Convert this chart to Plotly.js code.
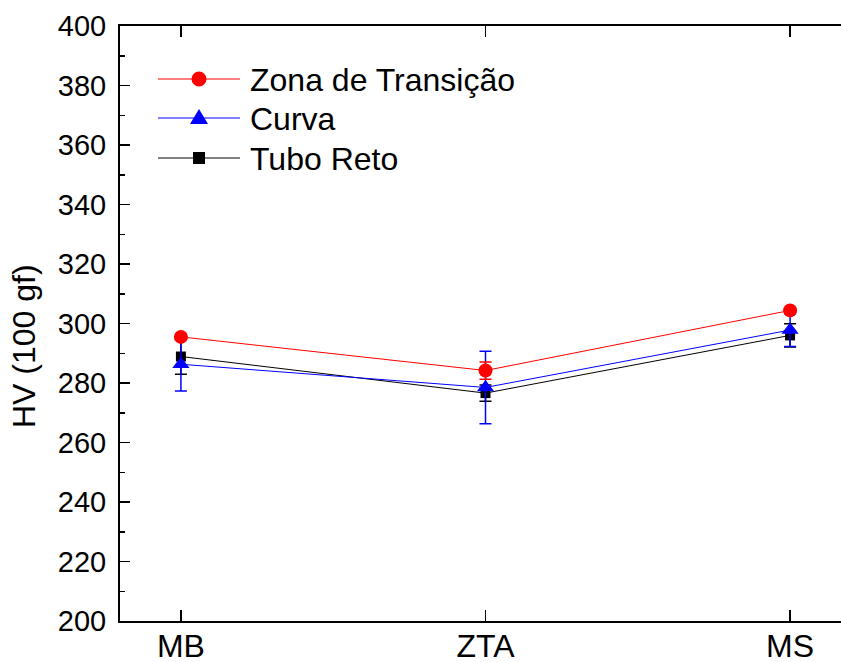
<!DOCTYPE html>
<html>
<head>
<meta charset="utf-8">
<script src="https://cdn.plot.ly/plotly-3.0.1.min.js"></script>
<style>
html, body { margin: 0; padding: 0; overflow: hidden; background: #fff; }
#chart { width: 860px; height: 662px; }
</style>
</head>
<body>
<div id="chart"></div>
<script>
// ---- data ----
const categories = ["MB", "ZTA", "MS"];
const seriesNames = ["Tubo Reto", "Curva", "Zona de Transição"];
const tuboReto = [288.9, 276.6, 296.0];
const tuboRetoErr = [6.0, 2.7, 3.9];
const curva = [286.3, 278.5, 297.8];
const curvaErr = [9.0, 12.2, 5.5];
const zona = [295.5, 284.2, 304.4];
const zonaErr = [0.8, 2.9, 0.8];
const yTickVals = [200, 220, 240, 260, 280, 300, 320, 340, 360, 380, 400];

// ---- geometry helpers (plot area in pixels) ----
const W = 860, H = 662;
const L = 120, R = 9, T = 26, B = 41;
const pw = W - L - R, ph = H - T - B;
const px = X => (X - L) / pw;
const py = Y => (H - B - Y) / ph;

const FONT = "Liberation Sans, Arial, sans-serif";

function trace(name, y, err, color, symbol, size) {
  return {
    type: "scatter", mode: "lines+markers", name: name,
    x: categories, y: y,
    line: { color: color, width: 1 },
    marker: { color: color, symbol: symbol, size: size, line: { width: 0 } },
    error_y: { type: "data", array: err, visible: true, color: color, thickness: 1.5, width: 6 },
    showlegend: false
  };
}

const data = [
  trace(seriesNames[0], tuboReto, tuboRetoErr, "#000000", "square", 10),
  trace(seriesNames[1], curva, curvaErr, "#0000ff", "triangle-up", 15),
  trace(seriesNames[2], zona, zonaErr, "#ff0000", "circle", 14)
];

// ---- custom legend (decoration) ----
const legendRows = [
  { name: seriesNames[2], color: "#ff0000", kind: "circle", Y: 79 },
  { name: seriesNames[1], color: "#0000ff", kind: "triangle", Y: 118 },
  { name: seriesNames[0], color: "#000000", kind: "square", Y: 158 }
];
const shapes = [];
const annotations = [];
legendRows.forEach(r => {
  shapes.push({ type: "line", xref: "paper", yref: "paper",
    x0: px(158), x1: px(240), y0: py(r.Y), y1: py(r.Y),
    line: { color: r.color, width: 1 } });
  const base = { xref: "paper", yref: "paper", xsizemode: "pixel", ysizemode: "pixel",
    xanchor: px(199), yanchor: py(r.Y), fillcolor: r.color, line: { width: 0 } };
  if (r.kind === "circle") {
    shapes.push(Object.assign({ type: "circle", x0: -7.5, x1: 7.5, y0: -7.5, y1: 7.5 }, base));
  } else if (r.kind === "square") {
    shapes.push(Object.assign({ type: "rect", x0: -6, x1: 6, y0: -6, y1: 6 }, base));
  } else {
    shapes.push(Object.assign({ type: "path", path: "M -9 -6 L 9 -6 L 0 9 Z" }, base));
  }
  annotations.push({ xref: "paper", yref: "paper", x: px(248), y: py(r.Y + 1),
    xanchor: "left", yanchor: "middle", showarrow: false, text: r.name,
    font: { family: FONT, size: 32, color: "#000" } });
});
annotations.push({ xref: "paper", yref: "paper", x: px(24), y: py(346),
  xanchor: "center", yanchor: "middle", showarrow: false, textangle: -90,
  text: "HV (100 gf)", font: { family: FONT, size: 32, color: "#000" } });

const layout = {
  width: W, height: H,
  margin: { l: L, r: R, t: T, b: B, pad: 0 },
  paper_bgcolor: "#fff", plot_bgcolor: "#fff",
  font: { family: FONT, color: "#000" },
  xaxis: {
    type: "category", range: [-0.2, 2.2], categoryorder: "array", categoryarray: categories,
    showline: true, linecolor: "#000", linewidth: 2, mirror: "allticks",
    ticks: "inside", ticklen: 11, tickwidth: 1.5, tickcolor: "#000",
    showgrid: false, zeroline: false,
    tickfont: { family: FONT, size: 32, color: "#000" }, ticklabelstandoff: -4
  },
  yaxis: {
    range: [200, 400], tickvals: yTickVals, ticktext: yTickVals.map(String),
    showline: true, linecolor: "#000", linewidth: 2, mirror: "allticks",
    ticks: "inside", ticklen: 10, tickwidth: 1.5, tickcolor: "#000",
    minor: { dtick: 10, ticks: "inside", ticklen: 5, tickwidth: 1.5, tickcolor: "#000", showgrid: false },
    showgrid: false, zeroline: false,
    tickfont: { family: FONT, size: 29, color: "#000" }, ticklabelstandoff: 6
  },
  shapes: shapes,
  annotations: annotations
};

Plotly.newPlot("chart", data, layout, { displayModeBar: false, staticPlot: true });
</script>
</body>
</html>
